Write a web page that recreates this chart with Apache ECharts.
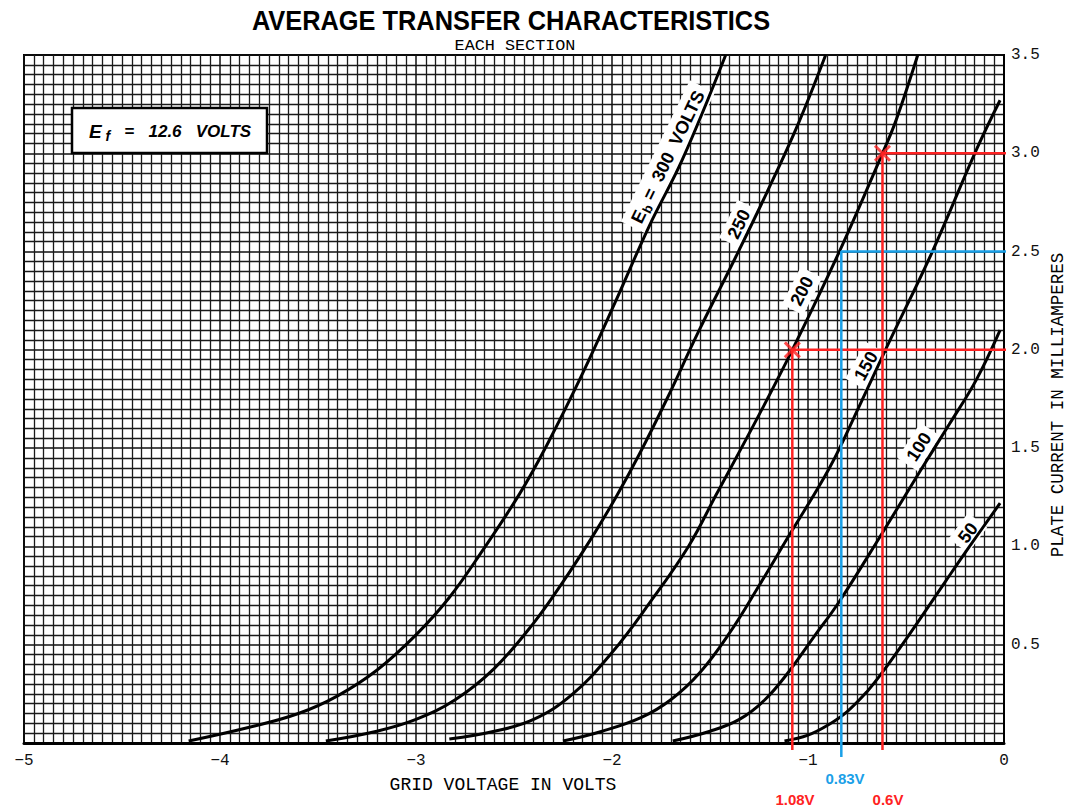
<!DOCTYPE html>
<html><head><meta charset="utf-8">
<script src="https://cdn.jsdelivr.net/npm/echarts@6/dist/echarts.min.js"></script>
<style>html,body{margin:0;padding:0;background:#fff}#c{width:1070px;height:809px}</style>
</head><body><div id="c"></div>
<script>
// ---- data (grid volts, plate mA) ----
const xTicks = [-5, -4, -3, -2, -1, 0];
const yTicks = [0.5, 1.0, 1.5, 2.0, 2.5, 3.0, 3.5];
const plateVolts = ['300', '250', '200', '150', '100', '50'];

const v300 = [-4.16, -3.85, -3.60, -3.40, -3.20, -3.00, -2.83, -2.66, -2.47, -2.33, -2.15, -1.98, -1.81, -1.64, -1.42];
const i300 = [0.01, 0.08, 0.15, 0.24, 0.37, 0.55, 0.74, 0.98, 1.27, 1.52, 1.88, 2.25, 2.63, 2.97, 3.50];

const v250 = [-3.46, -3.20, -3.00, -2.80, -2.60, -2.40, -2.25, -2.10, -1.98, -1.86, -1.72, -1.56, -1.37, -1.21, -1.05, -0.91];
const i250 = [0.01, 0.06, 0.12, 0.22, 0.38, 0.61, 0.82, 1.05, 1.25, 1.47, 1.75, 2.09, 2.47, 2.80, 3.15, 3.50];

const v200 = [-2.83, -2.60, -2.40, -2.20, -2.00, -1.81, -1.61, -1.47, -1.26, -1.08, -0.84, -0.62, -0.55, -0.44];
const i200 = [0.02, 0.06, 0.12, 0.25, 0.46, 0.71, 1.00, 1.26, 1.65, 2.00, 2.50, 3.00, 3.17, 3.50];

const v150 = [-2.25, -2.05, -1.85, -1.70, -1.55, -1.40, -1.25, -1.10, -0.89, -0.74, -0.60, -0.37, -0.14, -0.02];
const i150 = [0.01, 0.06, 0.13, 0.22, 0.36, 0.56, 0.80, 1.05, 1.40, 1.71, 2.01, 2.49, 3.02, 3.27];

const v100 = [-1.69, -1.50, -1.35, -1.22, -1.10, -0.97, -0.84, -0.62, -0.43, -0.28, -0.14, -0.02];
const i100 = [0.01, 0.06, 0.12, 0.22, 0.36, 0.54, 0.72, 1.07, 1.38, 1.62, 1.85, 2.10];

const v50 = [-1.12, -1.00, -0.90, -0.80, -0.70, -0.62, -0.45, -0.30, -0.19, -0.02];
const i50 = [0.01, 0.04, 0.09, 0.16, 0.26, 0.36, 0.60, 0.82, 0.98, 1.22];

// annotation (operating points)
const markVolts = [-1.08, -0.83, -0.62];
const markCurrents = [2.0, 2.5, 3.0];
const markLabels = ['1.08V', '0.83V', '0.6V'];
const markColors = ['#ff2222', '#1aa0e8', '#ff2222'];
const markBottoms = [-0.036, -0.071, -0.036];

const curvesV = [v300, v250, v200, v150, v100, v50];
const curvesI = [i300, i250, i200, i150, i100, i50];

const zip = (a, b) => a.map((x, k) => [x, b[k]]);

const series = curvesV.map((vs, k) => ({
  name: plateVolts[k], type: 'line', data: zip(vs, curvesI[k]),
  showSymbol: false, smooth: 0.4,
  lineStyle: { color: '#000', width: 3 }, z: 5, silent: true
}));

markVolts.forEach((v, k) => {
  const col = markColors[k];
  series.push({
    type: 'line', data: [[v, markBottoms[k]], [v, markCurrents[k]], [0.02, markCurrents[k]]],
    showSymbol: false, clip: false, lineStyle: { color: col, width: 2.5 }, z: 6, silent: true
  });
});
series.push({
  type: 'scatter', data: [[markVolts[0], markCurrents[0]], [markVolts[2], markCurrents[2]]],
  symbol: 'path://M0,0L10,10M10,0L0,10', symbolSize: 15,
  itemStyle: { color: 'none', borderColor: '#ff2222', borderWidth: 3 }, z: 7, silent: true
});

const mono = 'Liberation Mono';
const fmtX = v => v === 0 ? '0' : '\u2212' + Math.abs(v);

function curveLabel(rich, text, x, y, deg) {
  return {
    type: 'text', x: x, y: y, rotation: deg * Math.PI / 180, z: 2,
    style: {
      text: text, rich: rich, font: 'bold 18px "Liberation Sans"', fill: '#000',
      align: 'center', verticalAlign: 'middle', textAlign: 'center', textVerticalAlign: 'middle',
      backgroundColor: '#ffffff', padding: [3, 6, 3, 6]
    }
  };
}
const subRich = {
  e: { font: 'bold 18px "Liberation Sans"', fill: '#000' },
  s: { font: 'bold 13px "Liberation Sans"', fill: '#000', padding: [9, 0, 0, 1] },
  t: { font: 'bold 18px "Liberation Sans"', fill: '#000' }
};

const graphics = [
  { type: 'text', x: 511, y: 21, scaleX: 0.94, z: 10,
    style: { text: 'AVERAGE TRANSFER CHARACTERISTICS', font: 'bold 27px "Liberation Sans"', fill: '#000',
      align: 'center', verticalAlign: 'middle', textAlign: 'center', textVerticalAlign: 'middle' } },
  { type: 'text', x: 515, y: 46, scaleX: 1.2, z: 10,
    style: { text: 'EACH SECTION', font: '14px "' + mono + '"', fill: '#000',
      align: 'center', verticalAlign: 'middle', textAlign: 'center', textVerticalAlign: 'middle' } },
  { type: 'text', x: 503, y: 785, z: 10,
    style: { text: 'GRID VOLTAGE IN VOLTS', font: '18px "' + mono + '"', fill: '#000',
      align: 'center', verticalAlign: 'middle', textAlign: 'center', textVerticalAlign: 'middle' } },
  { type: 'text', x: 1058, y: 405, rotation: Math.PI / 2, z: 10,
    style: { text: 'PLATE CURRENT IN MILLIAMPERES', font: '17.5px "' + mono + '"', fill: '#000',
      align: 'center', verticalAlign: 'middle', textAlign: 'center', textVerticalAlign: 'middle' } },
  { type: 'rect', shape: { x: 72, y: 108, width: 195, height: 45 }, z: 10,
    style: { fill: '#fff', stroke: '#000', lineWidth: 2.5 } },
  { type: 'text', x: 170, y: 131, z: 11,
    style: { text: '{e|E}{s|f}{t|   =   12.6   VOLTS}', font: 'italic bold 18px "Liberation Sans"', fill: '#000',
      rich: {
        e: { font: 'italic bold 19px "Liberation Sans"', fill: '#000' },
        s: { font: 'italic bold 14px "Liberation Sans"', fill: '#000', padding: [10, 0, 0, 4] },
        t: { font: 'italic bold 17px "Liberation Sans"', fill: '#000' }
      },
      align: 'center', verticalAlign: 'middle', textAlign: 'center', textVerticalAlign: 'middle' } },
  curveLabel(subRich, '{e|E}{s|b}{t| =  300  VOLTS}', 668, 157, 64),
  curveLabel(null, '250', 739, 224, 64),
  curveLabel(null, '200', 802, 291, 63),
  curveLabel(null, '150', 866, 366, 61),
  curveLabel(null, '100', 919, 447, 57),
  curveLabel(null, '50', 968, 533, 53)
];
markLabels.forEach((t, k) => {
  graphics.push({ type: 'text', x: [795, 845, 888][k], y: [799, 778, 799][k], z: 10,
    style: { text: t, font: 'bold 15px "Liberation Sans"', fill: markColors[k],
      align: 'center', verticalAlign: 'middle', textAlign: 'center', textVerticalAlign: 'middle' } });
});

const chart = echarts.init(document.getElementById('c'), null, { renderer: 'svg' });
chart.setOption({
  backgroundColor: '#fff',
  animation: false,
  grid: { left: 24, right: 66, top: 55, bottom: 66, show: true, borderColor: '#000', borderWidth: 2 },
  xAxis: {
    type: 'value', min: xTicks[0], max: xTicks[xTicks.length - 1], interval: 1,
    axisLine: { show: true, onZero: false, lineStyle: { color: '#000', width: 3 } },
    axisTick: { show: false },
    axisLabel: { formatter: fmtX, color: '#111', fontFamily: mono, fontSize: 16, margin: 10 },
    splitLine: { show: true, lineStyle: { color: '#111', width: 1.5 } },
    minorTick: { show: false, splitNumber: 20 },
    minorSplitLine: { show: true, lineStyle: { color: '#1a1a1a', width: 1.3 } }
  },
  yAxis: {
    type: 'value', position: 'right', min: 0, max: yTicks[yTicks.length - 1], interval: 0.5,
    axisLine: { show: true, lineStyle: { color: '#000', width: 2 } },
    axisTick: { show: false },
    axisLabel: { formatter: v => (v === 0 ? '' : v.toFixed(1)), color: '#111', fontFamily: mono, fontSize: 16, margin: 7 },
    splitLine: { show: true, lineStyle: { color: '#111', width: 1.5 } },
    minorTick: { show: false, splitNumber: 10 },
    minorSplitLine: { show: true, lineStyle: { color: '#1a1a1a', width: 1.3 } }
  },
  graphic: graphics,
  series: series
});
</script></body></html>
